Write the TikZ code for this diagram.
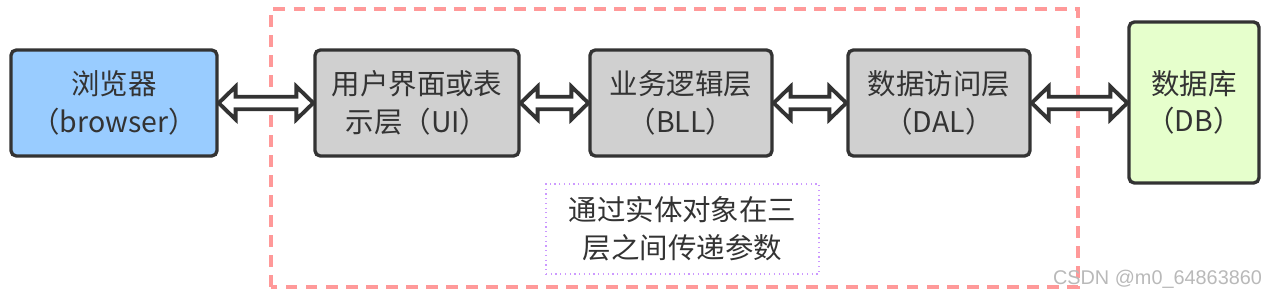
\documentclass[tikz,border=0pt]{standalone}
\usepackage{fontspec}
\setmainfont{Noto Sans CJK SC}
\newfontfamily\markfont{Liberation Sans}
\usepackage{tikz}
\usetikzlibrary{positioning, calc}
\definecolor{inkgray}{HTML}{333333}
\definecolor{browserblue}{HTML}{99CCFF}
\definecolor{layergray}{HTML}{D0D0D0}
\definecolor{dbgreen}{HTML}{E6FFCC}
\definecolor{framepink}{HTML}{FF9999}
\definecolor{notelilac}{HTML}{CC99FF}
\tikzset{
  tierbox/.style={rectangle, rounded corners=3pt, draw=inkgray, line width=1.9pt, align=center, text=inkgray, minimum height=2.12cm},
  dblarr/.style={draw=inkgray, fill=white, line width=2.2pt, line join=miter},
  frame/.style={draw=framepink, line width=2pt, dash pattern=on 6.8pt off 4.6pt},
  note/.style={rectangle, draw=notelilac, line width=0.7pt, dotted, align=center, text=inkgray},
}

\begin{document}
\begin{tikzpicture}[font=\fontsize{16.2}{21.5}\selectfont]
  \useasboundingbox (0,0) rectangle (25.46,5.98);

  % Three-tier frame
  \draw[frame] (5.42,0.24) rectangle (21.56,5.80);

  % Tiers
  \node[tierbox, fill=browserblue, minimum width=4.12cm] (browser) at (2.28,3.92) {浏览器\\（browser）};
  \node[tierbox, fill=layergray, minimum width=4.08cm] (ui) at (8.34,3.92) {用户界面或表\\示层（UI）};
  \node[tierbox, fill=layergray, minimum width=3.64cm] (bll) at (13.62,3.92) {业务逻辑层\\（BLL）};
  \node[tierbox, fill=layergray, minimum width=3.64cm] (dal) at (18.78,3.92) {数据访问层\\（DAL）};
  \node[tierbox, fill=dbgreen, minimum width=2.6cm, minimum height=3.22cm] (db) at (23.88,3.93) {数据库\\（DB）};

  % Hollow double arrows
  \foreach \a/\b in {browser/ui, ui/bll, bll/dal, dal/db} {
    \draw[dblarr] let \p1=(\a.east), \p2=(\b.west) in
      (\x1,\y1) -- (\x1+0.34cm,\y1+0.33cm) -- (\x1+0.34cm,\y1+0.125cm) -- (\x2-0.34cm,\y1+0.125cm)
      -- (\x2-0.34cm,\y1+0.33cm) -- (\x2,\y1) -- (\x2-0.34cm,\y1-0.33cm) -- (\x2-0.34cm,\y1-0.125cm)
      -- (\x1+0.34cm,\y1-0.125cm) -- (\x1+0.34cm,\y1-0.33cm) -- cycle;
  }

  % Note
  \node[note, minimum width=5.46cm, minimum height=1.8cm] (entity) at (13.65,1.40) {通过实体对象在三\\层之间传递参数};

  % Watermark
  \node[font=\markfont\fontsize{11.3}{13}\selectfont, text=gray!55] (mark) at (23.15,0.40) {CSDN @m0\_64863860};
\end{tikzpicture}
\end{document}
